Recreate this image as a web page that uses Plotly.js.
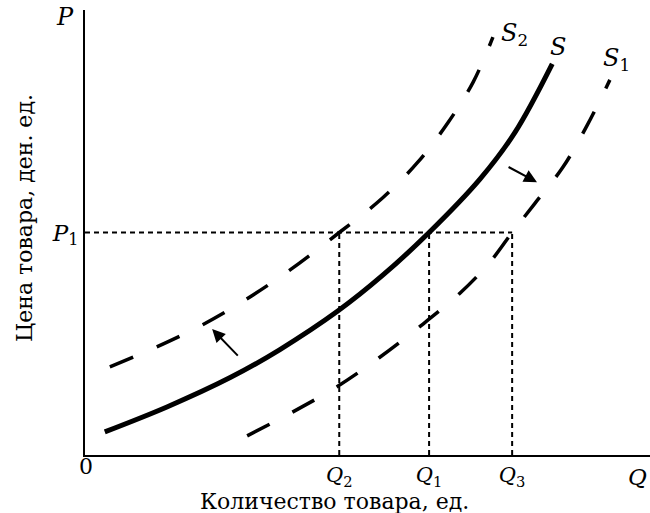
<!DOCTYPE html>
<html>
<head>
<meta charset="utf-8">
<script src="https://cdn.plot.ly/plotly-3.0.1.min.js"></script>
<style>html,body{margin:0;padding:0;background:#fff}#chart{width:650px;height:513px}</style>
</head>
<body>
<div id="chart"></div>
<script>
// Supply curve S
var sX  = [0.35, 1.45, 2.57, 3.45, 4.48, 5.27, 6.09, 6.99, 7.61, 8.27];
var sY  = [0.52, 1.08, 1.74, 2.37, 3.24, 4.04, 5.00, 6.20, 7.25, 8.79];
// Decreased supply S2
var s2X = [0.44, 1.27, 2.07, 2.83, 3.63, 4.50, 5.27, 5.89, 6.42, 6.87, 7.22];
var s2Y = [1.98, 2.43, 2.92, 3.48, 4.16, 5.00, 5.78, 6.58, 7.46, 8.38, 9.39];
// Increased supply S1
var s1X = [2.87, 3.68, 4.48, 5.20, 5.89, 6.64, 7.17, 7.56, 7.96, 8.46, 8.88, 9.29];
var s1Y = [0.43, 0.97, 1.55, 2.18, 2.85, 3.64, 4.34, 5.00, 5.65, 6.47, 7.39, 8.43];
// Key levels
var P1 = 5.0;
var Q2 = 4.5, Q1 = 6.09, Q3 = 7.56;
var xTickVals = [Q2, Q1, Q3];
var xTickText = ['<i>Q</i><sub>2</sub>', '<i>Q</i><sub>1</sub>', '<i>Q</i><sub>3</sub>'];
var yTickVals = [P1];
var yTickText = ['<i>P</i><sub>1</sub>'];
var xTitle = 'Количество товара, ед.';
var yTitle = 'Цена товара, ден. ед.';

var SERIF = '"DejaVu Serif", "Liberation Serif", serif';
var dotted = {color: '#000', width: 2, dash: '5px,4px'};

var traces = [
  {x: [0, Q3], y: [P1, P1], mode: 'lines', line: dotted, hoverinfo: 'skip'},
  {x: [Q2, Q2], y: [0, P1], mode: 'lines', line: dotted, hoverinfo: 'skip'},
  {x: [Q1, Q1], y: [0, P1], mode: 'lines', line: dotted, hoverinfo: 'skip'},
  {x: [Q3, Q3], y: [0, P1], mode: 'lines', line: dotted, hoverinfo: 'skip'},
  {x: s2X, y: s2Y, mode: 'lines', line: {color: '#000', width: 3.5, dash: '25px,26px', shape: 'spline'}},
  {x: s1X, y: s1Y, mode: 'lines', line: {color: '#000', width: 3.5, dash: '25px,26px', shape: 'spline'}},
  {x: sX, y: sY, mode: 'lines', line: {color: '#000', width: 5, shape: 'spline'}}
];

function pl(text, xp, yp, size, extra) {
  var a = {x: xp, y: yp, xref: 'paper', yref: 'paper', xanchor: 'center', yanchor: 'middle',
           showarrow: false, text: text, font: {size: size, family: SERIF, color: '#000'}};
  if (extra) for (var k in extra) a[k] = extra[k];
  return a;
}

var layout = {
  width: 650, height: 513,
  margin: {l: 85, r: 0, t: 10, b: 58},
  paper_bgcolor: '#fff', plot_bgcolor: '#fff',
  showlegend: false,
  font: {family: SERIF, color: '#000'},
  xaxis: {
    range: [0, 10], showgrid: false, zeroline: false,
    showline: true, linecolor: '#000', linewidth: 2,
    tickvals: xTickVals, ticktext: xTickText, ticks: '',
    tickfont: {size: 21, family: SERIF},
    title: {text: ''}
  },
  yaxis: {
    range: [0, 10], showgrid: false, zeroline: false,
    showline: true, linecolor: '#000', linewidth: 2,
    tickvals: yTickVals, ticktext: yTickText, ticks: '',
    tickfont: {size: 23, family: SERIF},
    title: {text: ''}
  },
  annotations: [
    {x: 2.25, y: 2.83, ax: 2.73, ay: 2.20, xref: 'x', yref: 'y', axref: 'x', ayref: 'y',
     showarrow: true, arrowhead: 2, arrowsize: 1.3, arrowwidth: 2, arrowcolor: '#000', text: ''},
    {x: 8.0, y: 6.13, ax: 7.47, ay: 6.49, xref: 'x', yref: 'y', axref: 'x', ayref: 'y',
     showarrow: true, arrowhead: 2, arrowsize: 1.3, arrowwidth: 2, arrowcolor: '#000', text: ''},
    {x: 7.61, y: 9.44, xref: 'x', yref: 'y', showarrow: false, text: '<i>S</i><sub>2</sub>', font: {size: 24}},
    {x: 8.37, y: 9.17, xref: 'x', yref: 'y', showarrow: false, text: '<i>S</i>', font: {size: 24}},
    {x: 9.40, y: 8.88, xref: 'x', yref: 'y', showarrow: false, text: '<i>S</i><sub>1</sub>', font: {size: 24}},
    pl('<i>P</i>', -0.035, 0.985, 24),
    pl('<i>Q</i>', 0.978, -0.05, 23),
    pl('0', 0.002, -0.026, 22),
    pl(xTitle, 0.442, -0.104, 22),
    pl(yTitle, -0.106, 0.533, 22, {textangle: -90})
  ]
};

Plotly.newPlot('chart', traces, layout, {displayModeBar: false, staticPlot: true});
</script>
</body>
</html>
